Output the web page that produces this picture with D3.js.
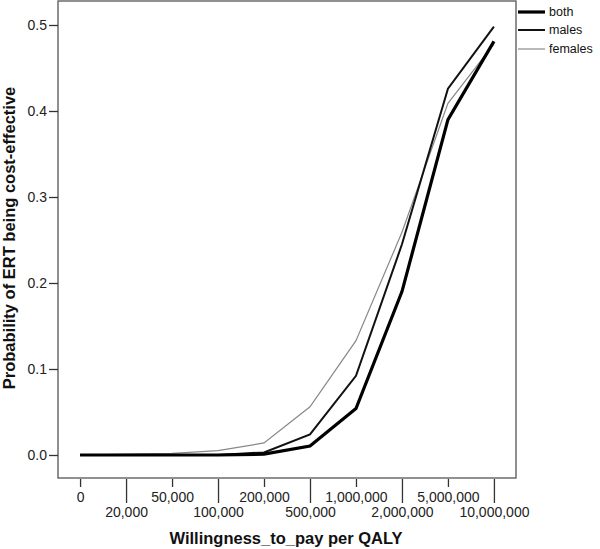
<!DOCTYPE html>
<html><head><meta charset="utf-8">
<script src="https://cdn.jsdelivr.net/npm/d3@7"></script>
<style>body{margin:0;background:#fff}svg{display:block}</style>
</head><body>
<svg id="c" width="600" height="549"></svg>
<script>
const categories = ["0","20,000","50,000","100,000","200,000","500,000","1,000,000","2,000,000","5,000,000","10,000,000"];
const both    = [0, 0, 0, 0, 0.001, 0.0105, 0.054, 0.19, 0.39, 0.481];
const males   = [0, 0, 0, 0, 0.003, 0.024, 0.092, 0.245, 0.426, 0.498];
const females = [0, 0.001, 0.002, 0.005, 0.014, 0.056, 0.133, 0.259, 0.409, 0.478];
const yTicks = [0, 0.1, 0.2, 0.3, 0.4, 0.5];
const seriesNames = ["both","males","females"];

const svg = d3.select("#c");
const L = 58, R = 516, T = 1, B = 478;
const font = "Arial, 'Liberation Sans', sans-serif";

const x = d3.scalePoint().domain(categories).range([L, R]).padding(0.48);
const y = d3.scaleLinear().domain([0, 0.5]).range([455, 25]);

// frame
svg.append("rect").attr("x", L).attr("y", T).attr("width", R - L).attr("height", B - T)
  .attr("fill", "none").attr("stroke", "#555").attr("stroke-width", 1.3);

// y axis
const ya = svg.append("g").attr("transform", `translate(${L},0)`)
  .call(d3.axisLeft(y).tickValues(yTicks).tickFormat(d3.format(".1f")).tickSizeOuter(0).tickSize(9).tickPadding(2));
ya.select(".domain").remove();
ya.selectAll("line").attr("stroke", "#333").attr("stroke-width", 1.3);
ya.selectAll("text").attr("font-family", font).attr("font-size", 14).attr("fill", "#222");

// x axis
const xa = svg.append("g").attr("transform", `translate(0,${B})`)
  .call(d3.axisBottom(x).tickSizeOuter(0).tickSize(0));
xa.select(".domain").remove();
xa.selectAll(".tick line").attr("stroke", "#333").attr("stroke-width", 1.3)
  .attr("y1", 1).attr("y2", (d, i) => i % 2 === 0 ? 9 : 25);
xa.selectAll(".tick text").attr("font-family", font).attr("font-size", 14).attr("fill", "#222")
  .attr("dy", null).attr("y", (d, i) => i % 2 === 0 ? 24 : 39);

// axis titles
svg.append("text").attr("x", 286).attr("y", 544).attr("text-anchor", "middle")
  .attr("font-family", font).attr("font-weight", "bold").attr("font-size", 16.5).attr("fill", "#111")
  .text("Willingness_to_pay per QALY");
svg.append("text").attr("transform", "translate(15,238) rotate(-90)").attr("text-anchor", "middle")
  .attr("font-family", font).attr("font-weight", "bold").attr("font-size", 16.5).attr("fill", "#111")
  .text("Probability of ERT being cost-effective");

// lines
const styles = {
  both: {c: "#000", w: 3.2},
  males: {c: "#111", w: 2},
  females: {c: "#888", w: 1.2}
};
const data = {both, males, females};
const line = d3.line().x((d, i) => x(categories[i])).y(d => y(d));
["females","males","both"].forEach(k => {
  svg.append("path").datum(data[k]).attr("d", line).attr("fill", "none")
    .attr("stroke", styles[k].c).attr("stroke-width", styles[k].w)
    .attr("stroke-linejoin", "miter");
});

// legend
const ly = [12, 30, 49];
seriesNames.forEach((k, i) => {
  svg.append("line").attr("x1", 518).attr("x2", 545).attr("y1", ly[i]).attr("y2", ly[i])
    .attr("stroke", styles[k].c).attr("stroke-width", styles[k].w);
  svg.append("text").attr("x", 549).attr("y", ly[i]).attr("dy", "0.35em")
    .attr("font-family", font).attr("font-size", 12.5).attr("fill", "#111").text(k);
});
</script>
</body></html>
